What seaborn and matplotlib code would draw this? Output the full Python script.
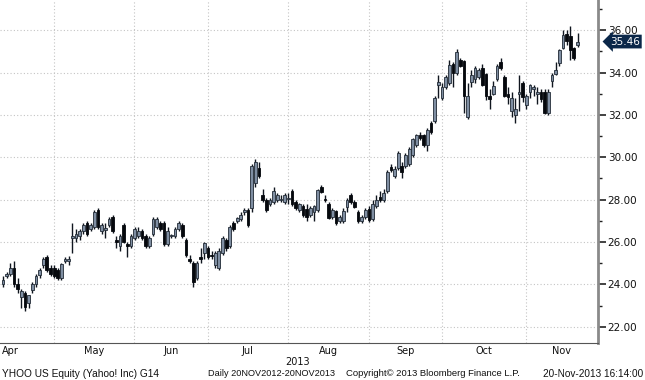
import numpy as np
import pandas as pd
import matplotlib
matplotlib.use("Agg")
import matplotlib.pyplot as plt
import matplotlib.transforms as mtransforms
from matplotlib.ticker import MultipleLocator, FormatStrFormatter
import seaborn as sns

# YHOO daily candles, 10-Apr-2013 .. 20-Nov-2013
holidays = ["2013-05-27", "2013-07-04", "2013-09-02"]
months = ["Apr", "May", "Jun", "Jul", "Aug", "Sep", "Oct", "Nov"]
year_label = "2013"
last_price = 35.46

opens = [24.0, 24.4, 24.5, 24.8, 24.0, 23.4, 23.6, 23.15, 23.75, 24.0,
         24.45, 24.9, 25.3, 24.8, 24.8, 24.7, 24.3, 25.1, 25.1, 26.2,
         26.2, 26.3, 26.5, 26.9, 26.6, 26.7, 27.5, 26.5, 26.55, 26.8,
         27.2, 26.1, 25.8, 26.8, 25.9, 25.8, 26.2, 26.3, 26.5, 26.3,
         25.8, 26.4, 26.7, 26.9, 26.9, 25.9, 26.3, 26.3, 26.6, 26.8,
         26.1, 25.2, 25.0, 24.3, 25.3, 25.5, 25.7, 25.4, 24.9, 24.8,
         25.5, 26.1, 25.8, 26.9, 27.0, 27.1, 27.4, 27.5, 27.6, 28.8,
         29.5, 28.2, 28.0, 27.8, 27.9, 28.0, 28.0, 27.9, 28.05, 28.4,
         27.9, 27.5, 27.7, 27.55, 27.3, 27.4, 27.5, 28.6, 28.05, 27.8,
         27.2, 27.45, 27.0, 27.0, 27.65, 28.2, 27.9, 27.4, 27.0, 27.2,
         27.55, 27.1, 27.7, 28.15, 28.0, 28.4, 29.55, 29.1, 29.5, 29.6,
         29.6, 29.7, 30.1, 30.6, 31.05, 31.05, 30.6, 31.6, 31.7, 33.4,
         32.8, 33.3, 33.5, 34.4, 34.0, 34.6, 34.55, 31.9, 33.55, 33.7,
         33.8, 34.2, 33.95, 32.9, 33.0, 33.7, 34.5, 33.8, 33.0, 32.2,
         32.0, 33.0, 33.5, 32.45, 33.1, 33.2, 33.0, 33.1, 33.1, 32.1,
         33.6, 33.95, 34.45, 35.15, 35.8, 35.7, 35.15, 35.3]
highs = [24.4, 24.6, 25.0, 25.1, 24.3, 23.8, 23.7, 23.5, 24.1, 24.5,
         24.8, 25.3, 25.4, 24.9, 24.9, 24.8, 25.0, 25.3, 25.35, 26.9,
         26.6, 26.6, 26.9, 27.0, 26.9, 27.5, 27.6, 26.9, 26.9, 27.2,
         27.3, 26.3, 26.4, 26.9, 26.0, 26.4, 26.7, 26.7, 26.6, 26.4,
         26.3, 27.2, 27.2, 27.0, 27.0, 26.7, 26.4, 26.7, 27.0, 26.9,
         26.2, 25.4, 25.1, 25.1, 25.7, 26.0, 25.8, 25.6, 25.6, 25.7,
         26.3, 26.2, 26.8, 27.0, 27.2, 27.4, 27.6, 27.6, 29.7, 29.9,
         29.8, 28.5, 28.1, 28.1, 28.6, 28.3, 28.2, 28.3, 28.3, 28.5,
         28.0, 27.85, 27.8, 27.8, 27.7, 27.75, 28.5, 28.7, 28.2, 27.9,
         27.6, 27.5, 27.3, 27.6, 28.1, 28.3, 28.0, 27.5, 27.3, 27.6,
         27.7, 28.0, 28.2, 28.4, 28.5, 29.4, 29.7, 29.6, 30.3, 29.8,
         30.2, 30.5, 30.9, 31.1, 31.2, 31.1, 31.4, 31.7, 32.9, 33.9,
         33.5, 33.9, 34.6, 34.5, 35.1, 34.7, 34.6, 33.5, 34.1, 34.3,
         34.2, 34.4, 34.0, 33.2, 33.6, 34.4, 34.7, 33.9, 33.3, 33.1,
         32.8, 33.9, 33.6, 33.0, 33.45, 33.4, 33.3, 33.2, 33.2, 33.2,
         34.0, 34.5, 35.1, 36.0, 36.0, 36.2, 35.2, 35.85]
lows = [23.9, 24.3, 24.4, 23.9, 23.6, 22.9, 22.75, 22.9, 23.6, 23.9,
        24.3, 24.8, 24.6, 24.4, 24.3, 24.2, 24.2, 25.0, 24.9, 25.5,
        26.0, 26.1, 26.4, 26.3, 26.5, 26.6, 26.6, 26.4, 26.2, 26.7,
        26.45, 25.7, 25.6, 25.95, 25.3, 25.7, 26.1, 26.2, 26.1, 25.7,
        25.7, 26.3, 26.6, 26.5, 25.8, 25.8, 26.2, 26.2, 26.5, 26.2,
        25.3, 25.0, 23.9, 24.2, 25.0, 25.2, 25.2, 25.2, 24.8, 24.7,
        25.4, 25.6, 25.7, 26.5, 26.9, 27.0, 27.3, 26.7, 27.4, 28.6,
        29.0, 27.9, 27.4, 27.7, 27.8, 27.9, 27.9, 27.8, 27.8, 27.7,
        27.5, 27.4, 27.2, 27.0, 27.2, 27.0, 27.4, 28.3, 27.9, 27.1,
        27.1, 26.8, 26.9, 26.9, 27.4, 27.8, 27.6, 26.9, 26.9, 27.1,
        26.95, 27.0, 27.6, 27.9, 27.9, 28.3, 29.3, 29.0, 29.4, 29.0,
        29.5, 29.6, 30.0, 30.5, 30.8, 30.5, 30.3, 31.1, 31.6, 32.8,
        32.7, 33.2, 33.4, 33.3, 33.9, 34.25, 32.1, 31.8, 33.3, 33.5,
        33.7, 33.35, 32.7, 32.3, 32.95, 33.6, 34.1, 32.85, 32.5, 31.9,
        31.6, 32.2, 32.6, 32.3, 32.8, 32.9, 32.5, 32.6, 32.05, 32.0,
        33.3, 33.9, 34.3, 35.1, 35.3, 34.6, 34.6, 35.2]
closes = [24.2, 24.5, 24.8, 24.0, 23.8, 23.7, 22.95, 23.5, 24.0, 24.4,
          24.7, 25.2, 24.7, 24.5, 24.4, 24.3, 24.95, 25.2, 25.2, 26.3,
          26.4, 26.5, 26.8, 26.4, 26.8, 27.4, 26.7, 26.8, 26.65, 27.1,
          26.5, 26.0, 26.3, 26.0, 25.8, 26.3, 26.6, 26.5, 26.2, 25.8,
          26.2, 27.1, 27.1, 26.6, 25.9, 26.5, 26.35, 26.6, 26.9, 26.3,
          25.4, 25.1, 24.1, 25.0, 25.2, 25.95, 25.3, 25.35, 25.5, 25.6,
          26.2, 25.7, 26.7, 26.6, 27.15, 27.3, 27.5, 26.8, 29.6, 29.8,
          29.1, 28.0, 27.5, 28.0, 28.4, 28.2, 28.05, 28.2, 28.1, 27.8,
          27.6, 27.8, 27.3, 27.2, 27.6, 27.7, 28.45, 28.35, 28.0, 27.15,
          27.5, 26.9, 27.2, 27.45, 28.0, 27.9, 27.65, 27.0, 27.2, 27.5,
          27.05, 27.8, 28.0, 28.0, 28.3, 29.3, 29.4, 29.45, 30.2, 29.3,
          30.1, 30.4, 30.85, 31.05, 30.9, 30.6, 31.3, 31.2, 32.8, 33.55,
          33.3, 33.8, 34.35, 34.0, 34.95, 34.3, 32.9, 32.9, 33.9, 34.2,
          34.1, 33.4, 32.9, 32.75, 33.35, 34.3, 34.2, 32.9, 32.85, 32.8,
          32.3, 33.1, 32.85, 32.9, 33.4, 33.3, 33.1, 32.75, 32.1, 33.1,
          33.9, 34.1, 35.05, 35.75, 35.5, 35.05, 34.7, 35.46]

dates = pd.bdate_range("2013-04-10", "2013-11-20", freq="C", holidays=holidays)
df = pd.DataFrame({"Date": dates, "Open": opens, "High": highs,
                   "Low": lows, "Close": closes})
df["Idx"] = np.arange(len(df))
df["Up"] = df["Close"] >= df["Open"]

sns.set_style("white")
plt.rcParams["font.family"] = ["DejaVu Sans"]

fig = plt.figure(figsize=(6.45, 3.8), dpi=100)
ax = fig.add_axes([0, 37 / 380, 598 / 645, 343 / 380])

# wicks
ax.vlines(df["Idx"], df["Low"], df["High"], color="#10161f", linewidth=1.0, zorder=2)

# bodies
body_w = 0.74
bottom = df[["Open", "Close"]].min(axis=1)
height = (df["Close"] - df["Open"]).abs().clip(lower=0.04)
up = df["Up"]
ax.bar(df.loc[up, "Idx"], height[up], bottom=bottom[up], width=body_w,
       color="#7f8ea2", edgecolor="#222b36", linewidth=0.6, zorder=3)
ax.bar(df.loc[~up, "Idx"], height[~up], bottom=bottom[~up], width=body_w,
       color="#05080d", edgecolor="#05080d", linewidth=0.6, zorder=3)

# month boundaries (drawn just before the first trading day of each month)
df["Month"] = df["Date"].dt.to_period("M")
first_idx = df.groupby("Month")["Idx"].min().values[1:]
bounds = first_idx - 1.1
x_lo, x_hi = -0.8, 162.6
ax.set_xlim(x_lo, x_hi)
ax.set_ylim(21.24, 37.42)

for b in bounds:
    ax.axvline(b, color="#c4c4c4", linewidth=0.8, linestyle=(0, (1, 2)), zorder=1)
for yv in range(22, 37, 2):
    ax.axhline(yv, color="#c4c4c4", linewidth=0.8, linestyle=(0, (1, 2)), zorder=1)

ax.set_xticks(bounds)
ax.set_xticklabels([])
ax.tick_params(axis="x", direction="out", length=4, width=0.8, color="#555555")

# right axis
ax.yaxis.tick_right()
ax.yaxis.set_major_locator(MultipleLocator(2))
ax.yaxis.set_minor_locator(MultipleLocator(1))
ax.yaxis.set_major_formatter(FormatStrFormatter("%.2f"))
ax.tick_params(axis="y", which="major", direction="out", length=6, width=1.2,
               color="#222222", labelsize=7.5, labelcolor="#111111", pad=1)
ax.tick_params(axis="y", which="minor", direction="out", length=3, width=1,
               color="#222222")
ax.set_yticks(np.arange(22, 37, 2))

for s in ["top", "left"]:
    ax.spines[s].set_visible(False)
ax.spines["right"].set_color("#8a8a8a")
ax.spines["right"].set_linewidth(2)
ax.spines["bottom"].set_color("#555555")
ax.spines["bottom"].set_linewidth(0.8)

# month labels
trans = mtransforms.blended_transform_factory(ax.transData, fig.transFigure)
edges = np.concatenate([[x_lo], bounds, [x_hi]])
for k, m in enumerate(months):
    if k == 0:
        ax.text(x_lo + 0.5, 0.076, m, transform=trans, ha="left", va="center",
                fontsize=7, color="#111111")
    else:
        ax.text((edges[k] + edges[k + 1]) / 2, 0.076, m, transform=trans,
                ha="center", va="center", fontsize=7, color="#111111")
fig.text(298 / 645, 0.047, year_label, ha="center", va="center", fontsize=7,
         color="#111111")

# last price tag
ytrans = mtransforms.blended_transform_factory(ax.transAxes, ax.transData)
ax.text(1.02, last_price, f"{last_price:.2f}", transform=ytrans, ha="left",
        va="center", fontsize=7.5, color="white",
        bbox=dict(boxstyle="larrow,pad=0.18", fc="#0b2749", ec="none"))

# footer
foot = dict(va="center", color="#111111", family="Liberation Sans")
fig.text(2 / 645, 0.016, "YHOO US Equity (Yahoo! Inc) G14", ha="left",
         fontsize=7.3, **foot)
fig.text(335 / 645, 0.016, "Daily 20NOV2012-20NOV2013", ha="right",
         fontsize=6.6, **foot)
fig.text(520 / 645, 0.016, "Copyright\u00a9 2013 Bloomberg Finance L.P.",
         ha="right", fontsize=6.8, **foot)
fig.text(643 / 645, 0.016, "20-Nov-2013 16:14:00", ha="right",
         fontsize=7.2, **foot)

fig.savefig("out.png", dpi=100, facecolor="white")
